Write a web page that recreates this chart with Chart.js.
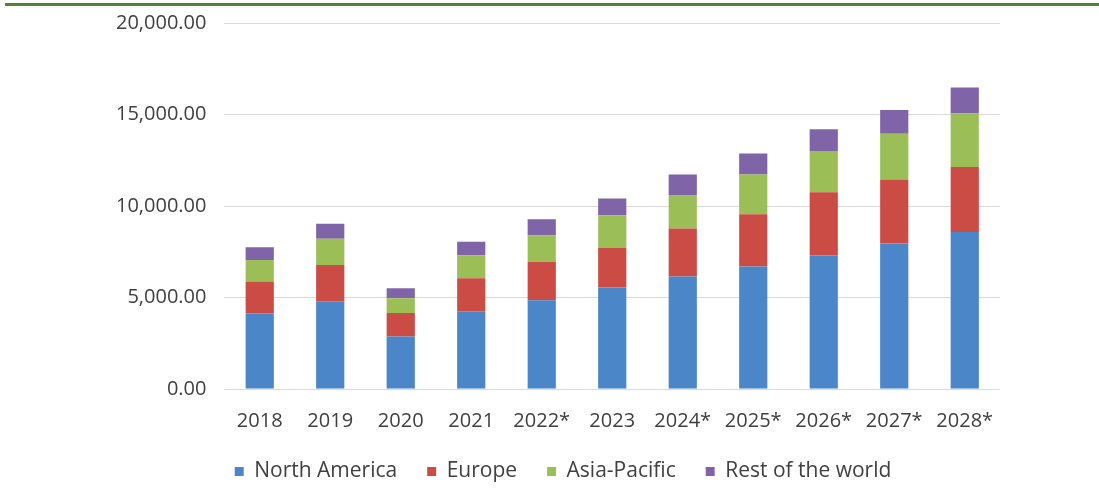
<!DOCTYPE html>
<html lang="en">
<head>
    <meta charset="UTF-8">
    <title>Market size by region, 2018-2028*</title>
    <script src="https://cdn.jsdelivr.net/npm/chart.js"></script>
    <style>
        html, body { margin: 0; padding: 0; background: #fff; }
        #topline { position: absolute; left: 5px; top: 3px; width: 1094px; height: 3px; background: #548235; }
        #wrap { width: 1099px; height: 488px; position: relative; }
    </style>
</head>
<body>
    <div id="wrap">
        <div id="topline"></div>
        <canvas id="grafica" width="1099" height="488"></canvas>
    </div>
    <script>
        // years (* = forecast)
        const years = ['2018', '2019', '2020', '2021', '2022*', '2023', '2024*', '2025*', '2026*', '2027*', '2028*'];

        // values per region
        const northAmerica = [4120, 4800, 2870, 4250, 4850, 5540, 6150, 6700, 7300, 7950, 8580];
        const europe       = [1760, 1980, 1280, 1800, 2100, 2160, 2615, 2850, 3450, 3500, 3550];
        const asiaPacific  = [1170, 1430,  810, 1260, 1450, 1800, 1840, 2170, 2250, 2500, 2920];
        const restOfWorld  = [ 700,  820,  550,  730,  880,  910, 1110, 1150, 1200, 1300, 1420];

        const yTicks = [0, 5000, 10000, 15000, 20000];

        const txt = '#404040';
        Chart.defaults.font.family = '"Open Sans", "DejaVu Sans", sans-serif';
        Chart.defaults.font.size = 20;
        Chart.defaults.color = txt;

        // move the legend a bit after layout (closer to the axis labels)
        const legendShift = {
            id: 'legendShift',
            afterLayout(chart) {
                const lg = chart.legend;
                lg.top -= 14; lg.bottom -= 14;
                lg.left += 5; lg.right += 5;
            }
        };

        const ctx = document.getElementById('grafica').getContext('2d');
        const data = {
            labels: years,
            datasets: [{
                label: 'North America',
                data: northAmerica,
                backgroundColor: '#4A86C8'
            }, {
                label: 'Europe',
                data: europe,
                backgroundColor: '#CB4B45'
            }, {
                label: 'Asia-Pacific',
                data: asiaPacific,
                backgroundColor: '#9BBE57'
            }, {
                label: 'Rest of the world',
                data: restOfWorld,
                backgroundColor: '#8064A8'
            }]
        };

        const opciones = {
            responsive: false,
            animation: false,
            layout: { padding: { left: 116, right: 99, top: 23, bottom: -18 } },
            datasets: { bar: { barPercentage: 0.4, categoryPercentage: 1 } },
            scales: {
                x: {
                    stacked: true,
                    grid: { display: false },
                    border: { display: false },
                    ticks: { padding: 12, maxRotation: 0 }
                },
                y: {
                    stacked: true,
                    min: yTicks[0],
                    max: yTicks[yTicks.length - 1],
                    afterBuildTicks: function (axis) {
                        axis.ticks = yTicks.map(v => ({ value: v }));
                    },
                    // invisible tick marks make the gap between labels and plot
                    grid: { color: '#d9d9d9', drawTicks: true, tickLength: 18, tickColor: 'rgba(0,0,0,0)', lineWidth: 1 },
                    border: { display: false },
                    ticks: {
                        padding: 0,
                        callback: v => v.toLocaleString('en-US', { minimumFractionDigits: 2, maximumFractionDigits: 2 })
                    }
                }
            },
            plugins: {
                legend: {
                    position: 'bottom',
                    labels: { boxWidth: 9, boxHeight: 9, padding: 30, color: txt, font: { size: 21 } }
                },
                tooltip: { enabled: false }
            }
        };

        new Chart(ctx, { type: 'bar', data: data, options: opciones, plugins: [legendShift] });
    </script>
</body>
</html>
